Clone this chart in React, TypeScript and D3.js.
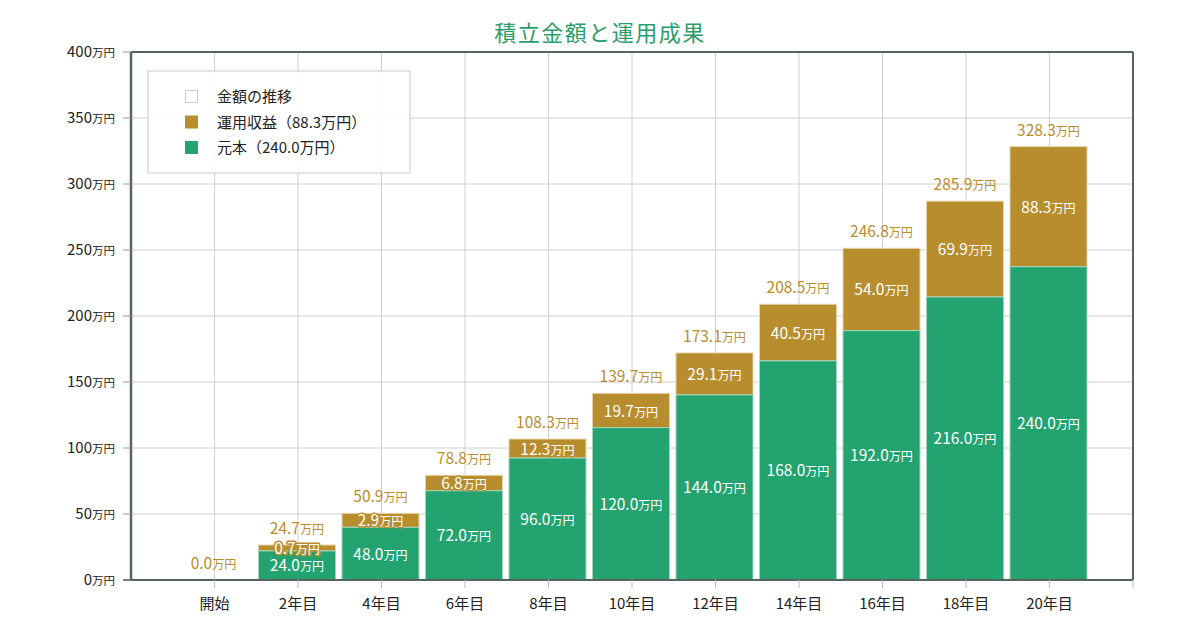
import React from "react";
import * as d3 from "d3";

const categories = ["開始", "2年目", "4年目", "6年目", "8年目", "10年目", "12年目", "14年目", "16年目", "18年目", "20年目"];
// label values
const principal = [0, 24, 48, 72, 96, 120, 144, 168, 192, 216, 240];
const gains = [0, 0.7, 2.9, 6.8, 12.3, 19.7, 29.1, 40.5, 54.0, 69.9, 88.3];
const totals = [0, 24.7, 50.9, 78.8, 108.3, 139.7, 173.1, 208.5, 246.8, 285.9, 328.3];
// bar heights as drawn in the reference
const principalBar = [0, 22.0, 39.9, 67.6, 92.4, 115.4, 140.2, 166.0, 188.9, 214.4, 237.3];
const totalBar = [0, 26.5, 50.5, 79.3, 106.8, 141.4, 172.0, 208.9, 251.3, 287.0, 328.3];
const yTicks = [0, 50, 100, 150, 200, 250, 300, 350, 400];
const legendItems = [
  { label: "金額の推移", color: "#ffffff", stroke: "#cccccc" },
  { label: "運用収益（88.3万円）", color: "#B88D2E", stroke: "#B88D2E" },
  { label: "元本（240.0万円）", color: "#22A36F", stroke: "#22A36F" },
];

const W = 1200, H = 630;
const left = 131, right = 1133, top = 52, bottom = 580;
const GOLD = "#B88D2E";
const GREEN = "#22A36F";
const FONT = "'Noto Sans CJK JP', 'Noto Sans', sans-serif";

function Val({ x, y, v, color, size = 15.5, halo }: { x: number; y: number; v: number; color: string; size?: number; halo?: string }) {
  const common: any = { x, y, textAnchor: "middle", fontFamily: FONT };
  return (
    <g>
      {halo && (
        <text {...common} fill={halo} stroke={halo} strokeWidth={3} strokeLinejoin="round">
          <tspan fontSize={size}>{v.toFixed(1)}</tspan>
          <tspan fontSize={size * 0.78}>万円</tspan>
        </text>
      )}
      <text {...common} fill={color}>
        <tspan fontSize={size}>{v.toFixed(1)}</tspan>
        <tspan fontSize={size * 0.78}>万円</tspan>
      </text>
    </g>
  );
}

export default function App() {
  const x = d3.scaleLinear().domain([-1, categories.length]).range([left, right]);
  const y = d3.scaleLinear().domain([0, 400]).range([bottom, top]);
  const barW = 77;
  const gridXs = d3.range(0, categories.length + 1).map((i) => x(i));

  return (
    <svg width={W} height={H} style={{ position: "absolute", left: 0, top: 0, background: "#fff" }}>
      <text x={600} y={41} textAnchor="middle" fontFamily={FONT} fontSize={22} fill="#2A9D6C" letterSpacing={1.5}>
        積立金額と運用成果
      </text>

      {/* grid */}
      {yTicks.map((t) => (
        <line key={"gy" + t} x1={left} x2={right} y1={y(t)} y2={y(t)} stroke="#d0d0d0" strokeWidth={1} />
      ))}
      {gridXs.map((gx, i) => (
        <line key={"gx" + i} x1={gx} x2={gx} y1={top} y2={bottom} stroke="#d0d0d0" strokeWidth={1} />
      ))}

      {/* bars */}
      {categories.map((c, i) => {
        const cx = x(i) - 1;
        if (totalBar[i] <= 0) return null;
        return (
          <g key={"b" + c}>
            <rect x={cx - barW / 2} y={y(totalBar[i])} width={barW} height={y(principalBar[i]) - y(totalBar[i])} fill={GOLD} stroke="#e6d3a8" strokeWidth={1} />
            <rect x={cx - barW / 2} y={y(principalBar[i])} width={barW} height={y(0) - y(principalBar[i])} fill={GREEN} stroke="#9fd6bd" strokeWidth={1} />
          </g>
        );
      })}

      {/* axes frame */}
      <line x1={left} x2={right} y1={top} y2={top} stroke="#56645f" strokeWidth={2} />
      <line x1={right} x2={right} y1={top} y2={bottom} stroke="#56645f" strokeWidth={2} />
      <line x1={left} x2={left} y1={top} y2={bottom} stroke="#56645f" strokeWidth={2.5} />
      <line x1={left - 8} x2={right} y1={bottom} y2={bottom} stroke="#56645f" strokeWidth={2} />

      {/* y ticks */}
      {yTicks.map((t) => (
        <g key={"yt" + t}>
          <line x1={left - 8} x2={left} y1={y(t)} y2={y(t)} stroke="#999" />
          <text x={115} y={y(t) + 5} textAnchor="end" fontFamily={FONT} fill="#222">
            <tspan fontSize={15}>{t}</tspan>
            <tspan fontSize={11.5}>万円</tspan>
          </text>
        </g>
      ))}

      {/* x ticks */}
      {gridXs.map((gx, i) => (
        <line key={"xt" + i} x1={gx} x2={gx} y1={bottom} y2={bottom + 8} stroke="#bbb" />
      ))}
      {categories.map((c, i) => (
        <text key={"xl" + c} x={x(i)} y={609} textAnchor="middle" fontFamily={FONT} fontSize={15} fill="#222">
          {c}
        </text>
      ))}

      {/* value labels */}
      {categories.map((c, i) => {
        const cx = x(i) - 1;
        return (
          <g key={"l" + c}>
            <Val x={cx} y={y(totalBar[i]) - 11} v={totals[i]} color={GOLD} />
            {totalBar[i] > 0 && (
              <>
                <Val x={cx} y={(y(principalBar[i]) + y(totalBar[i])) / 2 + 6} v={gains[i]} color="#ffffff" halo={GOLD} />
                <Val x={cx} y={(y(0) + y(principalBar[i])) / 2 + 6} v={principal[i]} color="#ffffff" />
              </>
            )}
          </g>
        );
      })}

      {/* legend */}
      <rect x={148} y={71} width={262} height={102} fill="#ffffff" fillOpacity={0.9} stroke="#c8cccc" strokeWidth={1} />
      {legendItems.map((it, i) => (
        <g key={"lg" + i}>
          <rect x={185.5} y={90.5 + i * 25.5} width={12} height={12} fill={it.color} stroke={it.stroke} strokeWidth={1} />
          <text x={217} y={102 + i * 25.5} fontFamily={FONT} fontSize={15} fill="#222">
            {it.label}
          </text>
        </g>
      ))}
    </svg>
  );
}
